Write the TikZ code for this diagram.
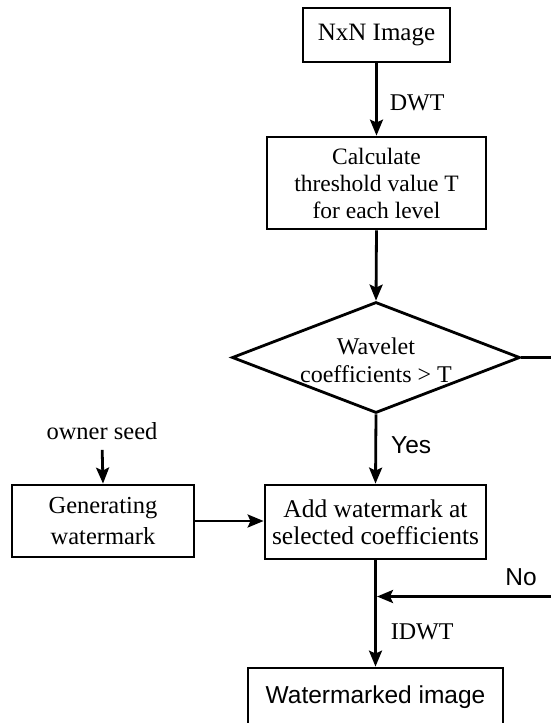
\documentclass[tikz,border=0pt]{standalone}
\usepackage{fontspec}
\setmainfont{Liberation Serif}
\newfontfamily\sansf{Liberation Sans}
\usetikzlibrary{shapes.geometric,arrows.meta}

\begin{document}
\begin{tikzpicture}[x=1pt,y=-1pt,
  every node/.style={font=\fontsize{24.5}{27}\selectfont},
  procbox/.style={draw, line width=2.8pt, inner sep=0pt, align=center},
  decision/.style={draw, diamond, line width=2.8pt, inner sep=0pt},
  flow/.style={line width=2.8pt, -{Stealth[length=16pt,width=13pt,inset=3pt]}},
  plain/.style={line width=2.8pt},
  lbl/.style={inner sep=0pt, anchor=west, font=\fontsize{24}{27}\selectfont},
  sanslbl/.style={inner sep=0pt, font=\sansf\fontsize{24.5}{27}\selectfont}
]
\useasboundingbox (0,0) rectangle (551,723);
\clip (0,0) rectangle (551,723);

% process boxes and the decision
\node[procbox, minimum width=147pt, minimum height=54pt, font=\fontsize{25}{27}\selectfont]
  (nxn) at (376.5,35) {NxN Image};
\node[procbox, minimum width=219pt, minimum height=92pt, font=\fontsize{23.5}{27}\selectfont]
  (calc) at (376.5,183) {Calculate\\threshold value T\\for each level};
\node[decision, minimum width=288pt, minimum height=111pt] (dec) at (376,357.5) {};
\node[align=center, inner sep=0pt, font=\fontsize{24}{28}\selectfont]
  (dectext) at (376,360) {Wavelet\\coefficients > T};
\node[procbox, minimum width=182pt, minimum height=72pt, font=\fontsize{24.5}{31}\selectfont]
  (gen) at (103,521) {Generating\\watermark};
\node[procbox, minimum width=221pt, minimum height=74pt, font=\fontsize{25.5}{27}\selectfont]
  (add) at (375.5,522) {Add watermark at\\selected coefficients};
\node[procbox, minimum width=255pt, minimum height=58pt, font=\sansf\fontsize{24.5}{27}\selectfont]
  (wm) at (375.5,697) {Watermarked image};
\node[inner sep=3pt] (seed) at (102,431) {owner seed};

% main flow
\draw[flow] (nxn.south) -- node[lbl, pos=0.55, xshift=12pt] {DWT} (calc.north);
\draw[flow] (calc.south) -- (dec.north);
\draw[flow] (dec.south) -- node[sanslbl, anchor=west, pos=0.44, xshift=14pt] {Yes} (add.north);
\draw[flow, shorten <=7pt] (seed.south) -- (gen.north);
\draw[flow] (gen.east) -- (add.west |- gen.east);
\draw[flow] (add.south) -- node[lbl, pos=0.67, xshift=14pt] {IDWT} (wm.north);

% "No" branch leaving the decision to the right and rejoining below
\coordinate (outTop) at (575,357.5);
\coordinate (outBot) at (575,596.5);
\coordinate (join) at (377,596.5);
\draw[plain] (dec.east) -- (outTop) -- (outBot);
\draw[flow] (outBot) -- (join);
\node[sanslbl] (nolbl) at (521,577) {No};
\end{tikzpicture}
\end{document}
